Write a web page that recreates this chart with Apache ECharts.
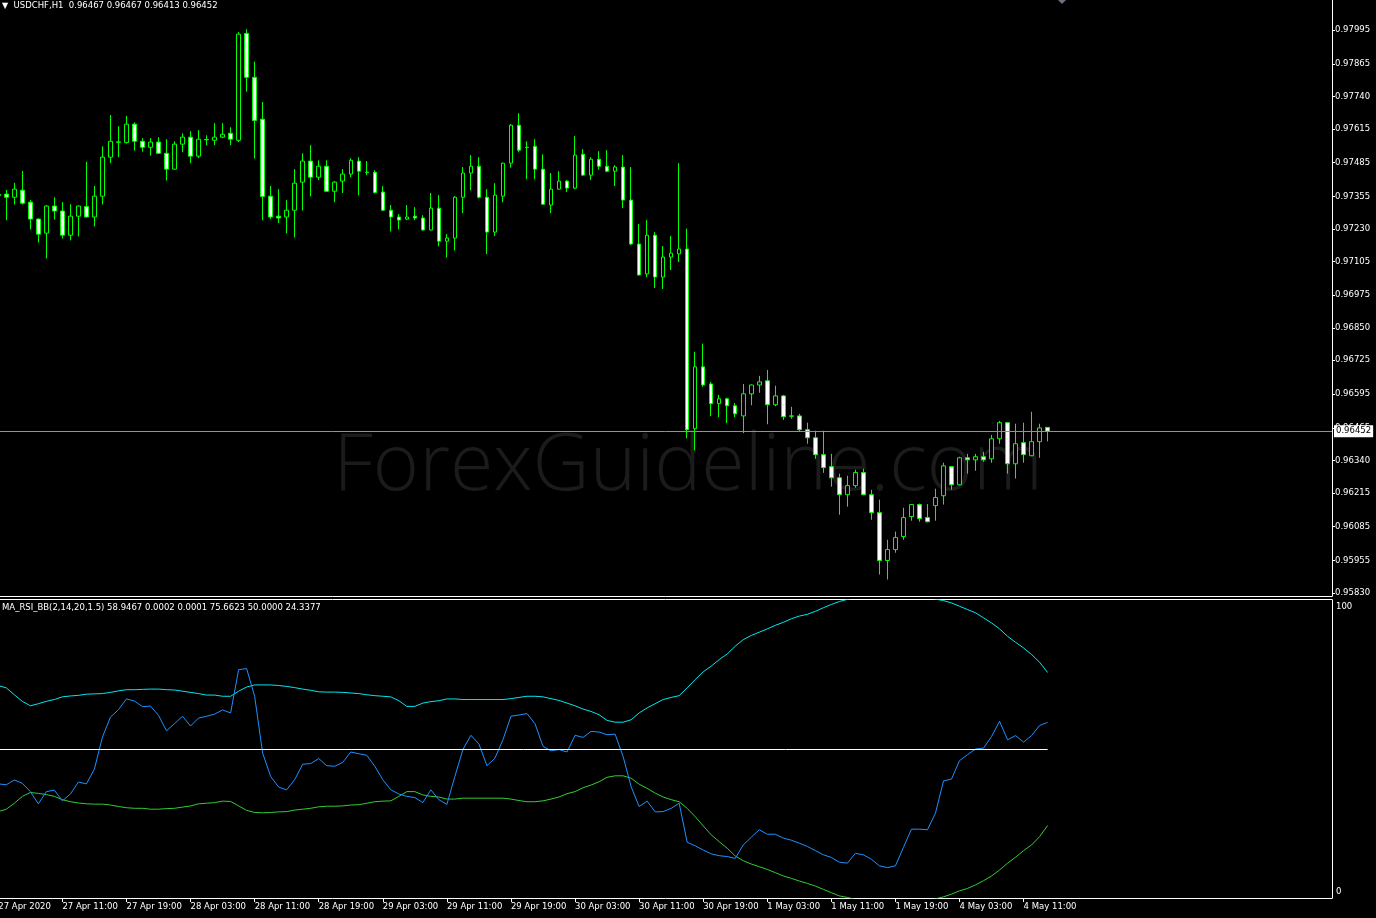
<!DOCTYPE html>
<html>
<head>
<meta charset="utf-8">
<script src="https://cdn.jsdelivr.net/npm/echarts@6/dist/echarts.min.js"></script>
<style>
html,body{margin:0;padding:0;background:#000;}
#chart{width:1376px;height:918px;}
</style>
</head>
<body>
<div id="chart"></div>
<script>
// ---------- DATA ----------
const symbolName = 'USDCHF,H1';
const indicatorName = 'MA_RSI_BB(2,14,20,1.5)';
const firstBarUTC = Date.UTC(2020, 3, 27, 3);   // 27 Apr 2020 03:00
const totalSlots = 167;                          // bars + empty right margin

const openP = [0.97358,0.97364,0.97352,0.97379,0.97333,0.97268,0.97214,0.97318,0.97299,0.97206,
0.97279,0.97316,0.97276,0.97356,0.97506,0.97563,0.97562,0.97633,0.97567,0.97544,
0.97564,0.97521,0.97460,0.97556,0.97583,0.97510,0.97574,0.97571,0.97583,0.97598,
0.97571,0.97982,0.97813,0.97652,0.97356,0.97279,0.97276,0.97302,0.97410,0.97491,
0.97429,0.97471,0.97375,0.97414,0.97441,0.97491,0.97448,0.97448,0.97372,0.97302,
0.97276,0.97268,0.97279,0.97272,0.97226,0.97310,0.97183,0.97195,0.97352,0.97445,
0.97471,0.97352,0.97218,0.97356,0.97483,0.97629,0.97544,0.97548,0.97460,0.97322,
0.97383,0.97414,0.97387,0.97517,0.97437,0.97498,0.97471,0.97452,0.97468,0.97341,
0.97172,0.97057,0.97206,0.97045,0.97122,0.97134,0.97153,0.96462,0.96700,0.96634,
0.96558,0.96577,0.96550,0.96511,0.96596,0.96630,0.96646,0.96554,0.96588,0.96511,
0.96511,0.96458,0.96427,0.96362,0.96316,0.96273,0.96208,0.96243,0.96293,0.96208,
0.96139,0.95955,0.95997,0.96047,0.96124,0.96170,0.96120,0.96166,0.96204,0.96316,
0.96246,0.96350,0.96342,0.96354,0.96346,0.96423,0.96485,0.96327,0.96408,0.96358,
0.96412,0.96467];
const closeP = [0.97363,0.97352,0.97383,0.97329,0.97268,0.97210,0.97318,0.97299,0.97206,0.97279,
0.97318,0.97276,0.97356,0.97506,0.97567,0.97565,0.97633,0.97567,0.97544,0.97564,
0.97521,0.97460,0.97556,0.97583,0.97510,0.97575,0.97573,0.97583,0.97594,0.97575,
0.97979,0.97813,0.97647,0.97355,0.97276,0.97272,0.97302,0.97406,0.97491,0.97429,
0.97471,0.97375,0.97410,0.97441,0.97494,0.97452,0.97447,0.97370,0.97302,0.97276,
0.97264,0.97276,0.97272,0.97226,0.97310,0.97183,0.97195,0.97352,0.97445,0.97471,
0.97352,0.97218,0.97360,0.97483,0.97629,0.97533,0.97543,0.97460,0.97325,0.97383,
0.97414,0.97387,0.97514,0.97437,0.97498,0.97471,0.97452,0.97468,0.97341,0.97172,
0.97053,0.97206,0.97045,0.97122,0.97137,0.97153,0.96458,0.96700,0.96630,0.96558,
0.96577,0.96550,0.96519,0.96596,0.96630,0.96642,0.96554,0.96588,0.96508,0.96510,
0.96458,0.96427,0.96362,0.96312,0.96273,0.96208,0.96243,0.96293,0.96208,0.96139,
0.95955,0.95997,0.96043,0.96120,0.96170,0.96116,0.96104,0.96197,0.96319,0.96246,
0.96350,0.96342,0.96354,0.96342,0.96423,0.96485,0.96327,0.96404,0.96362,0.96412,
0.96465,0.96452];
const lowP = [0.97340,0.97263,0.97324,0.97324,0.97228,0.97178,0.97117,0.97266,0.97193,0.97186,
0.97201,0.97274,0.97240,0.97324,0.97483,0.97506,0.97558,0.97531,0.97527,0.97512,
0.97519,0.97416,0.97458,0.97525,0.97483,0.97502,0.97552,0.97552,0.97579,0.97552,
0.97564,0.97758,0.97501,0.97263,0.97268,0.97253,0.97213,0.97197,0.97301,0.97355,
0.97418,0.97373,0.97333,0.97368,0.97429,0.97359,0.97437,0.97366,0.97299,0.97220,
0.97228,0.97264,0.97264,0.97224,0.97224,0.97163,0.97120,0.97147,0.97291,0.97379,
0.97347,0.97134,0.97203,0.97333,0.97466,0.97525,0.97421,0.97421,0.97323,0.97291,
0.97381,0.97372,0.97383,0.97433,0.97418,0.97458,0.97448,0.97395,0.97310,0.97168,
0.97051,0.97045,0.97003,0.96999,0.97072,0.97103,0.96425,0.96378,0.96623,0.96510,
0.96506,0.96483,0.96506,0.96445,0.96552,0.96600,0.96479,0.96548,0.96496,0.96500,
0.96450,0.96404,0.96346,0.96292,0.96239,0.96131,0.96162,0.96235,0.96206,0.96112,
0.95901,0.95882,0.95985,0.96035,0.96108,0.96104,0.96102,0.96108,0.96170,0.96227,
0.96244,0.96289,0.96300,0.96335,0.96331,0.96404,0.96289,0.96270,0.96331,0.96356,
0.96350,0.96413];
const highP = [0.97380,0.97380,0.97407,0.97453,0.97342,0.97270,0.97322,0.97352,0.97333,0.97325,
0.97320,0.97488,0.97395,0.97548,0.97668,0.97625,0.97665,0.97640,0.97579,0.97579,
0.97583,0.97575,0.97567,0.97598,0.97606,0.97610,0.97590,0.97637,0.97637,0.97621,
0.97987,0.97998,0.97873,0.97718,0.97395,0.97383,0.97341,0.97460,0.97521,0.97552,
0.97494,0.97494,0.97414,0.97460,0.97502,0.97506,0.97491,0.97456,0.97395,0.97322,
0.97287,0.97322,0.97314,0.97283,0.97368,0.97360,0.97210,0.97356,0.97468,0.97514,
0.97506,0.97383,0.97406,0.97485,0.97633,0.97675,0.97567,0.97575,0.97517,0.97445,
0.97452,0.97418,0.97587,0.97537,0.97506,0.97529,0.97533,0.97475,0.97514,0.97468,
0.97249,0.97264,0.97218,0.97164,0.97203,0.97483,0.97231,0.96758,0.96789,0.96642,
0.96592,0.96581,0.96561,0.96634,0.96632,0.96665,0.96688,0.96627,0.96592,0.96546,
0.96519,0.96485,0.96454,0.96454,0.96365,0.96289,0.96281,0.96304,0.96308,0.96227,
0.96189,0.96035,0.96066,0.96158,0.96172,0.96174,0.96172,0.96231,0.96331,0.96318,
0.96354,0.96365,0.96365,0.96373,0.96438,0.96492,0.96487,0.96481,0.96485,0.96527,
0.96481,0.96467];

const rsiMA = [38.3,38.0,39.6,38.5,35.7,31.6,35.7,36.2,32.6,34.9,
38.9,38.3,43.3,54.0,60.7,63.2,66.8,66.1,64.2,64.4,
61.3,56.1,58.5,61.0,57.7,60.4,61.0,61.7,63.1,62.1,
76.6,77.0,67.7,48.6,40.8,37.2,36.3,39.7,44.9,45.1,
46.8,44.4,44.2,45.5,49.0,48.4,47.9,44.2,39.7,36.3,
34.9,34.1,33.7,32.0,36.3,33.0,31.4,40.8,49.8,54.6,
51.7,44.4,46.9,53.1,61.0,61.4,61.9,58.5,50.9,49.4,
49.8,49.0,54.6,53.9,55.9,55.7,54.8,55.0,47.5,37.4,
30.7,32.5,28.9,29.0,30.1,31.8,18.7,17.5,16.1,14.8,
14.2,13.9,13.3,17.8,20.4,22.9,21.4,21.4,20.1,19.4,
18.4,17.3,15.9,14.5,13.6,12.0,11.7,15.0,14.5,13.0,
10.8,10.2,10.8,17.0,23.1,23.1,22.9,28.5,39.3,39.9,
46.1,48.1,50.0,50.3,54.2,59.3,53.1,54.5,52.3,54.5,
57.9,58.9467];
const bandUpper = [71.3,70.5,68.2,66.0,64.5,65.2,66.0,66.6,67.5,67.8,
68.0,68.4,68.5,68.6,69.0,69.5,69.9,69.9,70.0,70.1,
70.1,69.9,69.8,69.4,69.0,68.6,68.1,68.1,67.7,67.7,
69.4,70.8,71.5,71.5,71.5,71.3,71.0,70.6,70.1,69.7,
69.2,69.1,69.1,69.0,68.8,68.6,68.2,67.9,67.7,67.5,
66.2,64.3,64.3,65.4,65.9,66.2,66.8,66.8,66.6,66.6,
66.6,66.6,66.6,66.6,66.9,67.3,67.7,67.7,67.5,66.9,
66.3,65.4,64.5,63.4,62.6,61.5,59.6,59.0,59.0,59.8,
62.1,63.8,65.2,66.6,67.3,67.9,70.5,73.3,75.9,77.8,
80.0,81.9,84.5,86.7,88.1,89.2,90.3,91.5,92.5,93.7,
94.6,95.2,96.2,97.4,98.5,99.5,100.2,100.8,101.4,101.9,
102.2,102.4,102.4,102.2,101.8,101.3,100.8,100.3,99.8,99.0,
97.9,96.8,95.7,94.0,92.3,90.3,87.8,85.8,83.9,81.7,
79.1,75.6623];
const bandLower = [29.0,29.8,31.8,34.1,35.4,35.1,34.7,34.1,33.0,32.3,
31.9,31.6,31.5,31.5,31.2,30.7,30.3,30.1,30.1,29.8,
29.8,30.0,30.1,30.5,30.9,31.6,31.8,32.0,32.5,32.4,
30.9,29.4,28.7,28.6,28.7,28.9,29.0,29.5,29.8,30.1,
30.6,30.8,30.8,30.9,31.2,31.3,31.8,32.3,32.5,32.6,
34.1,35.7,35.7,34.6,34.1,33.9,33.2,33.2,33.5,33.5,
33.5,33.5,33.5,33.5,33.2,32.7,32.3,32.3,32.6,33.2,
33.9,35.0,35.7,37.0,37.9,39.0,40.5,41.0,41.0,40.2,
38.2,36.8,35.2,33.9,33.0,32.3,30.1,27.3,24.2,21.2,
18.9,16.7,14.1,12.5,11.4,10.5,9.6,8.5,7.4,6.6,
5.7,4.9,4.0,2.9,1.8,0.7,0.2,-0.5,-1.4,-1.9,
-2.2,-2.4,-2.4,-2.2,-1.8,-1.3,-0.8,-0.3,0.4,1.3,
2.4,3.2,4.4,5.8,7.4,9.4,11.7,13.7,15.9,17.8,
20.6,24.3377];
const midLevel = 50;
const indicatorExtra = ['0.0002', '0.0001'];

const priceTicks = [0.97995,0.97865,0.97740,0.97615,0.97485,0.97355,0.97230,0.97105,0.96975,
0.96850,0.96725,0.96595,0.96465,0.96340,0.96215,0.96085,0.95955,0.95830];
const priceMin = 0.958185, priceMax = 0.981104;
const rsiTicks = [0, 100];
const timeTickEvery = 8;
const timeTickLabels = ['27 Apr 2020','27 Apr 11:00','27 Apr 19:00','28 Apr 03:00','28 Apr 11:00',
'28 Apr 19:00','29 Apr 03:00','29 Apr 11:00','29 Apr 19:00','30 Apr 03:00','30 Apr 11:00',
'30 Apr 19:00','1 May 03:00','1 May 11:00','1 May 19:00','4 May 03:00','4 May 11:00'];

// ---------- BUILD ----------
const categories = [];
for (let t = firstBarUTC; categories.length < totalSlots; t += 3600e3) {
  const d = new Date(t), wd = d.getUTCDay();
  if (wd === 0 || wd === 6) continue;
  categories.push(d.toISOString().slice(0, 16).replace('T', ' '));
}
const nBars = openP.length;
const candles = openP.map((o, i) => [o, closeP[i], lowP[i], highP[i]]);
const tickMap = {};
timeTickLabels.forEach((s, i) => { tickMap[i * timeTickEvery] = s; });
const isTick = (idx) => tickMap[idx] !== undefined;

const FONT = 'DejaVu Sans';
const FS = 8.5;
const GREEN = '#00ff00';
const last = nBars - 1;

const chart = echarts.init(document.getElementById('chart'), null, { renderer: 'canvas' });
const gridL = -5.7, axisX = 1332;

chart.setOption({
  backgroundColor: '#000',
  animation: false,
  textStyle: { fontFamily: FONT },
  title: [
    {
      left: 2, top: 1, padding: 0,
      text: '{tri|▼}  ' + symbolName + '  ' + [openP[last], highP[last], lowP[last], closeP[last]].map(v => v.toFixed(5)).join(' '),
      textStyle: { color: '#fff', fontSize: FS, fontWeight: 'normal', fontFamily: FONT,
        rich: { tri: { color: '#fff', fontSize: 8, fontFamily: FONT } } }
    },
    {
      left: 2, top: 603, padding: 0,
      text: indicatorName + ' ' + rsiMA[last].toFixed(4) + ' ' + indicatorExtra.join(' ') + ' ' +
            bandUpper[last].toFixed(4) + ' ' + midLevel.toFixed(4) + ' ' + bandLower[last].toFixed(4),
      textStyle: { color: '#fff', fontSize: FS, fontWeight: 'normal', fontFamily: FONT }
    }
  ],
  graphic: [
    {
      type: 'text', left: 'center', top: 428, z: -10, silent: true,
      style: { text: 'ForexGuideline.com', fill: '#1b1b1b', font: '300 79px "Open Sans"' }
    },
    {
      type: 'polygon', z: 10, silent: true,
      shape: { points: [[1058, 0], [1066, 0], [1062, 4]] },
      style: { fill: '#6f7080' }
    }
  ],
  grid: [
    { left: gridL, right: 1376 - axisX, top: 0, height: 596, containLabel: false, outerBoundsMode: 'none' },
    { left: gridL, right: 1376 - axisX, top: 600, height: 298, containLabel: false, outerBoundsMode: 'none' }
  ],
  xAxis: [
    {
      type: 'category', gridIndex: 0, data: categories, boundaryGap: true,
      axisLine: { show: true, lineStyle: { color: '#fff', width: 1 } },
      axisTick: { show: false }, axisLabel: { show: false }, splitLine: { show: false }
    },
    {
      type: 'category', gridIndex: 1, data: categories, boundaryGap: true,
      axisLine: { show: true, lineStyle: { color: '#fff', width: 1 } },
      axisTick: { show: true, alignWithLabel: true, length: 4, lineStyle: { color: '#fff' },
        interval: (idx) => isTick(idx) },
      axisLabel: { show: true, color: '#fff', fontSize: FS, fontFamily: FONT, align: 'left',
        margin: 4, interval: (idx) => isTick(idx), formatter: (v, idx) => tickMap[idx] || '',
        hideOverlap: false },
      splitLine: { show: false }
    },
    {
      type: 'category', gridIndex: 1, data: categories, position: 'top', offset: 1,
      axisLine: { show: true, lineStyle: { color: '#fff', width: 1 } },
      axisTick: { show: false }, axisLabel: { show: false }, splitLine: { show: false }
    }
  ],
  yAxis: [
    {
      type: 'value', gridIndex: 0, position: 'right', min: priceMin, max: priceMax, scale: true,
      axisLine: { show: true, lineStyle: { color: '#fff', width: 1 } },
      axisTick: { show: true, length: 3, inside: false, customValues: priceTicks, lineStyle: { color: '#fff' } },
      axisLabel: { show: true, customValues: priceTicks, color: '#fff', fontSize: FS, fontFamily: FONT,
        margin: 3, formatter: (v) => v.toFixed(5) },
      splitLine: { show: false }
    },
    {
      type: 'value', gridIndex: 1, position: 'right', min: 0, max: 100,
      axisLine: { show: true, lineStyle: { color: '#fff', width: 1 } },
      axisTick: { show: false },
      axisLabel: { show: true, customValues: rsiTicks, color: '#fff', fontSize: FS, fontFamily: FONT,
        margin: 4,
        formatter: (v) => v >= 100 ? '{t|' + v + '}' : '{b|' + v + '}',
        rich: {
          t: { color: '#fff', fontSize: FS, fontFamily: FONT, padding: [14, 0, 0, 0] },
          b: { color: '#fff', fontSize: FS, fontFamily: FONT, padding: [0, 0, 12, 0] }
        } },
      splitLine: { show: false }
    }
  ],
  series: [
    {
      type: 'candlestick', xAxisIndex: 0, yAxisIndex: 0, data: candles, barWidth: 4,
      itemStyle: {
        color: '#000', color0: '#fff',
        borderColor: GREEN, borderColor0: GREEN, borderColorDoji: GREEN, borderWidth: 1
      }
    },
    {
      // current price level (bid line)
      type: 'line', xAxisIndex: 0, yAxisIndex: 0, data: [], symbol: 'none', zlevel: 1, z: 10,
      markLine: {
        symbol: 'none', silent: true, animation: false, precision: 5,
        lineStyle: { color: '#8793a8', width: 1, type: 'solid' },
        label: { show: true, position: 'end', distance: 2, formatter: closeP[last].toFixed(5),
          backgroundColor: '#fff', color: '#000', fontSize: FS, fontFamily: FONT, padding: [2, 2, 1, 2] },
        data: [{ yAxis: closeP[last] }]
      }
    },
    {
      type: 'line', xAxisIndex: 1, yAxisIndex: 1, data: bandUpper, symbol: 'none',
      lineStyle: { color: '#00e8f0', width: 1 }, z: 3
    },
    {
      type: 'line', xAxisIndex: 1, yAxisIndex: 1, data: bandLower, symbol: 'none',
      lineStyle: { color: '#32cd32', width: 1 }, z: 3
    },
    {
      type: 'line', xAxisIndex: 1, yAxisIndex: 1, data: rsiMA, symbol: 'none',
      lineStyle: { color: '#1e90ff', width: 1 }, z: 4,
      markLine: {
        symbol: 'none', silent: true, animation: false, precision: 4,
        lineStyle: { color: '#fff', width: 1, type: 'solid' },
        label: { show: false },
        data: [[{ coord: [categories[0], midLevel] }, { coord: [categories[last], midLevel] }]]
      }
    }
  ]
});
</script>
</body>
</html>
